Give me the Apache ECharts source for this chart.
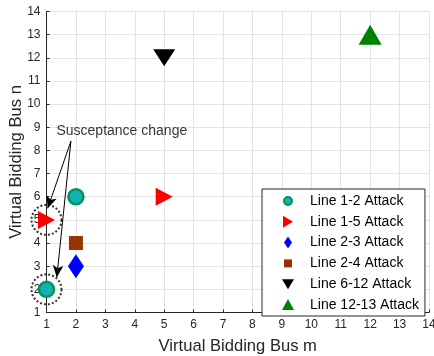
<!DOCTYPE html>
<html>
<head>
<meta charset="utf-8">
<script src="https://cdn.jsdelivr.net/npm/echarts@6/dist/echarts.min.js"></script>
<style>
  html, body { margin: 0; padding: 0; background: #fff; }
  #chart { width: 434px; height: 356px; }
</style>
</head>
<body>
<div id="chart"></div>
<script>
// Attacked lines and the virtual bidding bus pair (m, n) chosen for each
const seriesNames = ['Line 1-2 Attack', 'Line 1-5 Attack', 'Line 2-3 Attack',
                     'Line 2-4 Attack', 'Line 6-12 Attack', 'Line 12-13 Attack'];
const line12 = [[2, 6], [1, 2]];
const line15 = [[1, 5], [5, 6]];
const line23 = [[2, 3]];
const line24 = [[2, 4]];
const line612 = [[5, 12]];
const line1213 = [[12, 13]];

// Axis ticks
const xTicks = [1, 2, 3, 4, 5, 6, 7, 8, 9, 10, 11, 12, 13, 14];
const yTicks = [1, 2, 3, 4, 5, 6, 7, 8, 9, 10, 11, 12, 13, 14];

// Points whose susceptance changed, and the callout pointing at them
const changedPoints = [[1, 5], [1, 2]];
const calloutText = 'Susceptance change';
const calloutAnchor = [3.56, 8.83];
const arrowStart = [1.83, 8.4];
const arrowEnds = [[1.04, 5.5], [1.35, 2.52]];

const chart = echarts.init(document.getElementById('chart'), null, { renderer: 'canvas' });
const font = 'Liberation Sans, Arial, Helvetica, sans-serif';
const textColor = '#262626';

// Legend glyphs; the leading moves pin every glyph to the same 12x12 box
const box = 'M0,0M12,12';
const legendIcons = [
  'path://' + box + 'M6,2A4,4 0 1,1 5.99,2Z',
  'path://' + box + 'M1,0L11,6L1,12Z',
  'path://' + box + 'M6,0L10,6L6,12L2,6Z',
  'path://' + box + 'M2,2L10,2L10,10L2,10Z',
  'path://' + box + 'M0,1L12,1L6,11Z',
  'path://' + box + 'M6,0L12,11L0,11Z'
];
const legendStyles = [
  { color: '#14b0b2', borderColor: '#00935a', borderWidth: 2 },
  { color: '#ff0000', borderWidth: 0 },
  { color: '#0000ff', borderWidth: 0 },
  { color: '#993300', borderWidth: 0 },
  { color: '#000000', borderWidth: 0 },
  { color: '#008000', borderWidth: 0 }
];

const axisCommon = {
  type: 'value',
  min: xTicks[0],
  max: xTicks[xTicks.length - 1],
  interval: 1,
  nameLocation: 'middle',
  nameMoveOverlap: false,
  nameTextStyle: { fontFamily: font, fontSize: 16.6, color: textColor },
  axisLine: { show: true, lineStyle: { color: '#262626', width: 1 } },
  axisTick: { show: true, inside: true, length: 3, lineStyle: { color: '#262626' } },
  axisLabel: { fontFamily: font, fontSize: 12, color: textColor, margin: 6 },
  splitLine: { show: true, lineStyle: { color: '#e3e3e3', width: 1 } }
};

chart.setOption({
  animation: false,
  backgroundColor: '#fff',
  grid: { left: 46.5, right: 5, top: 11.5, bottom: 43.5, containLabel: false, outerBoundsMode: 'none' },
  xAxis: Object.assign({}, axisCommon, { name: 'Virtual Bidding Bus m', nameGap: 25 }),
  yAxis: Object.assign({}, axisCommon, {
    min: yTicks[0], max: yTicks[yTicks.length - 1],
    name: 'Virtual Bidding Bus n', nameGap: 22
  }),
  legend: {
    data: seriesNames.map((n, i) => ({ name: n, icon: legendIcons[i], itemStyle: legendStyles[i] })),
    orient: 'vertical',
    left: 262, top: 189,
    padding: [5, 6, 4, 19],
    itemWidth: 12, itemHeight: 12, itemGap: 6.8,
    backgroundColor: '#fff',
    borderColor: '#262626', borderWidth: 1, borderRadius: 0,
    textStyle: { fontFamily: font, fontSize: 14, color: '#000', padding: [0, 0, 0, 11] }
  },
  series: [
    {
      name: 'changed', type: 'scatter', silent: true, z: 1,
      data: changedPoints, symbol: 'circle', symbolSize: 30,
      itemStyle: { color: 'transparent', borderColor: '#000', borderWidth: 2, borderType: [2, 2] }
    },
    {
      name: seriesNames[0], type: 'scatter', data: line12, symbol: 'circle', symbolSize: 15,
      itemStyle: { color: '#14b0b2', borderColor: '#00935a', borderWidth: 2.5, opacity: 1 }
    },
    {
      name: seriesNames[1], type: 'scatter', data: line15, symbol: 'triangle', symbolSize: [18, 17],
      symbolRotate: -90,
      itemStyle: { color: '#ff0000', opacity: 1 }
    },
    {
      name: seriesNames[2], type: 'scatter', data: line23, symbol: 'diamond', symbolSize: [16, 24],
      itemStyle: { color: '#0000ff', opacity: 1 }
    },
    {
      name: seriesNames[3], type: 'scatter', data: line24, symbol: 'rect', symbolSize: 14,
      itemStyle: { color: '#993300', opacity: 1 }
    },
    {
      name: seriesNames[4], type: 'scatter', data: line612, symbol: 'triangle', symbolSize: [22, 17],
      symbolRotate: 180,
      itemStyle: { color: '#000000', opacity: 1 }
    },
    {
      name: seriesNames[5], type: 'scatter', data: line1213, symbol: 'triangle', symbolSize: [23, 20],
      itemStyle: { color: '#008000', opacity: 1 }
    },
    {
      name: 'callout', type: 'scatter', silent: true, z: 5,
      data: [calloutAnchor], symbolSize: 0,
      label: {
        show: true, position: 'inside', formatter: calloutText,
        fontFamily: font, fontSize: 14, color: '#000'
      },
      markLine: {
        silent: true, animation: false,
        symbol: ['none', 'arrow'], symbolSize: [8, 12],
        label: { show: false },
        lineStyle: { color: '#000', width: 1, type: 'solid' },
        data: arrowEnds.map(e => [{ coord: arrowStart }, { coord: e }])
      }
    }
  ]
});
</script>
</body>
</html>
